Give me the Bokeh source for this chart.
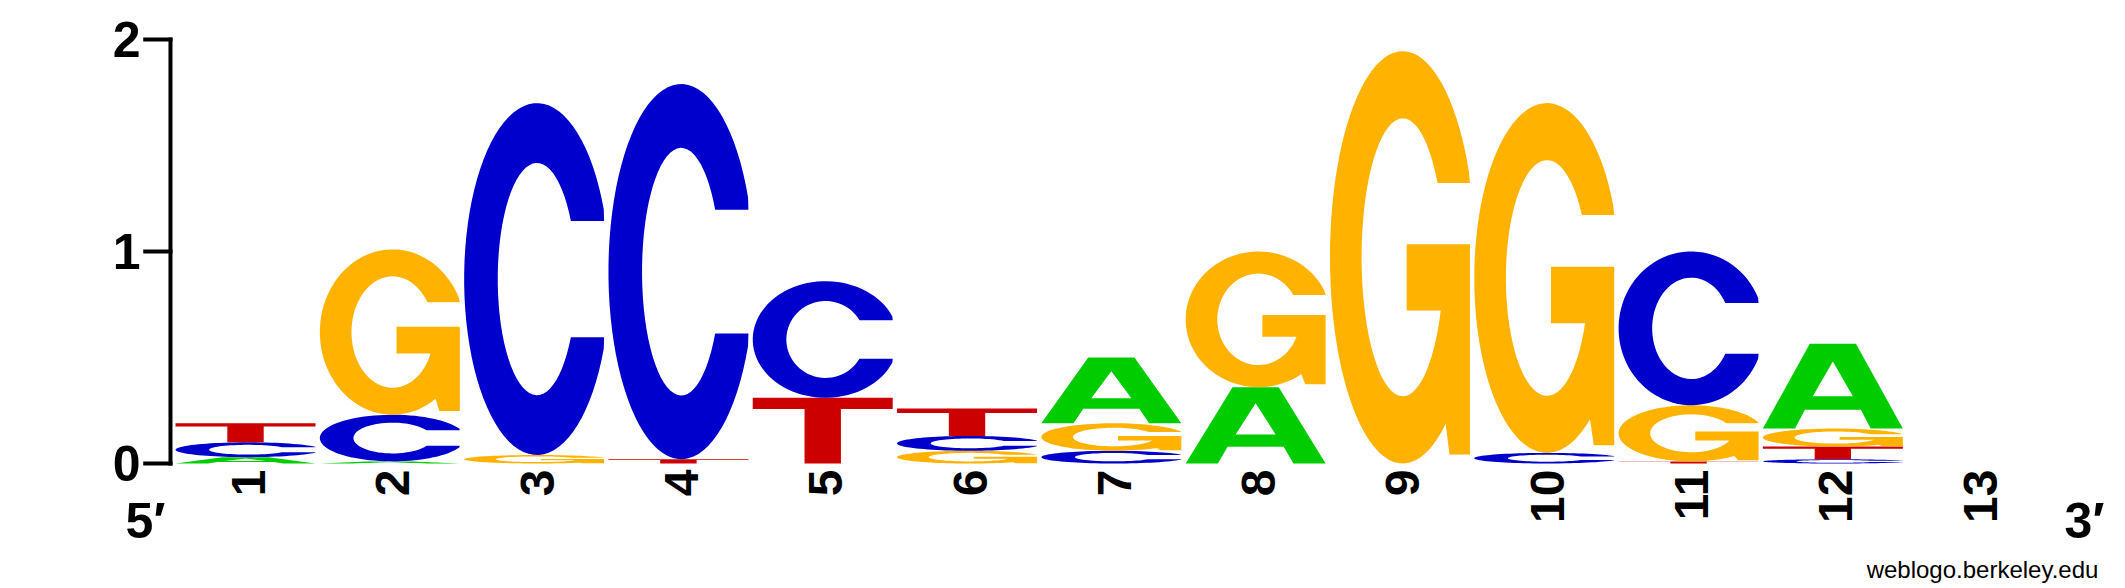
import numpy as np

from bokeh.plotting import figure
from bokeh.core.properties import value
from bokeh.embed import file_html
from bokeh.resources import INLINE

# information content (bits) per base, positions 1..13
positions = list(range(1, 14))
a_bits = [0.03, 0.01, 0.00, 0.00, 0.00, 0.00, 0.31, 0.36, 0.00, 0.00, 0.000, 0.400, 0.0]
c_bits = [0.07, 0.22, 1.66, 1.77, 0.55, 0.07, 0.06, 0.00, 0.00, 0.05, 0.725, 0.020, 0.0]
g_bits = [0.00, 0.78, 0.04, 0.00, 0.00, 0.06, 0.13, 0.64, 1.945, 1.65, 0.265, 0.085, 0.0]
t_bits = [0.09, 0.00, 0.00, 0.02, 0.31, 0.13, 0.00, 0.00, 0.00, 0.00, 0.010, 0.060, 0.0]
y_ticks = [0, 1, 2]

colors = {"A": "#00CC00", "C": "#0000CC", "G": "#FFB300", "T": "#CC0000"}
FONT = value("Liberation Sans")
LETTER_W = 0.97
AXIS_X = 0.48      # where the bits axis sits
TICK_LEN = 0.175   # tick length in position units


# --- letter outlines in a unit box (Helvetica Bold-ish) ---
def ellipse(cx, cy, rx, ry, t):
    return cx + rx * np.cos(t), cy + ry * np.sin(t)


def shape_A():
    outer = [(0, 0), (0.335, 1), (0.665, 1), (1, 0), (0.77, 0), (0.70, 0.22), (0.30, 0.22), (0.23, 0)]
    hole = [(0.357, 0.38), (0.643, 0.38), (0.5, 0.79)]
    return [outer, hole]


def shape_T():
    return [[(0, 1), (1, 1), (1, 0.83), (0.63, 0.83), (0.63, 0), (0.37, 0), (0.37, 0.83), (0, 0.83)]]


def shape_C():
    cut = 0.165
    t0 = np.arcsin(cut / 0.5)
    ox, oy = ellipse(0.52, 0.5, 0.52, 0.5, np.linspace(t0, 2 * np.pi - t0, 80))
    ox = np.minimum(ox, 1.0)
    f0 = np.arcsin(cut / 0.33)
    ix, iy = ellipse(0.52, 0.5, 0.28, 0.33, np.linspace(2 * np.pi - f0, f0, 60))
    return [list(zip(ox, oy)) + list(zip(ix, iy))]


def shape_G():
    t0 = np.arcsin(0.18 / 0.5)
    ox, oy = ellipse(0.52, 0.5, 0.52, 0.5, np.linspace(t0, 2 * np.pi - 0.94, 80))
    ox = np.minimum(ox, 1.0)
    bar = [(0.854, 0.022), (1.0, 0.022), (1.0, 0.532), (0.548, 0.532), (0.548, 0.371)]
    f_start = np.arcsin(-0.129 / 0.337)
    f_end = np.arcsin(0.18 / 0.337) - 2 * np.pi
    ix, iy = ellipse(0.52, 0.5, 0.294, 0.337, np.linspace(f_start, f_end, 70))
    return [list(zip(ox, oy)) + bar + list(zip(ix, iy))]


shapes = {"A": shape_A(), "C": shape_C(), "G": shape_G(), "T": shape_T()}

# stack letters, smallest at the bottom
xs, ys, fills = [], [], []
for i, pos in enumerate(positions):
    column = [("A", a_bits[i]), ("C", c_bits[i]), ("G", g_bits[i]), ("T", t_bits[i])]
    column = sorted([c for c in column if c[1] > 0], key=lambda c: c[1])
    base = 0.0
    for letter, h in column:
        rings_x, rings_y = [], []
        for ring in shapes[letter]:
            rings_x.append([pos - LETTER_W / 2 + u * LETTER_W for u, v in ring])
            rings_y.append([base + v * h for u, v in ring])
        xs.append([rings_x])
        ys.append([rings_y])
        fills.append(colors[letter])
        base += h

p = figure(width=2125, height=588, x_range=(-0.6979, 14.028), y_range=(-0.5896, 2.184),
           output_backend="svg", toolbar_location=None, min_border=0)
p.outline_line_color = None
p.grid.visible = False
p.axis.visible = False

p.multi_polygons(xs=xs, ys=ys, fill_color=fills, line_color=None)

# bits axis with ticks and labels
p.segment(x0=[AXIS_X], y0=[0], x1=[AXIS_X], y1=[2], line_width=4, line_color="black", line_cap="square")
p.segment(x0=[AXIS_X] * 3, y0=y_ticks, x1=[AXIS_X - TICK_LEN] * 3, y1=y_ticks,
          line_width=4, line_color="black", line_cap="square")
p.text(x=[AXIS_X] * 3, y=y_ticks, text=[str(t) for t in y_ticks], x_offset=-30,
       text_font=FONT, text_font_style="bold", text_font_size="50px",
       text_align="right", text_baseline="middle", text_color="black")

# position numbers, rotated
p.text(x=positions, y=[0] * len(positions), text=[str(n) for n in positions],
       x_offset=3, y_offset=6, angle=np.pi / 2,
       text_font=FONT, text_font_style="bold", text_font_size="48px",
       text_align="right", text_baseline="middle", text_color="black")

# 5' / 3' ends
p.text(x=[0.307, 13.744], y=[-0.272, -0.272], text=["5\u2032", "3\u2032"],
       text_font=FONT, text_font_style="bold", text_font_size="50px",
       text_align="center", text_baseline="middle", text_color="black")

p.text(x=[13.84], y=[-0.50], text=["weblogo.berkeley.edu"],
       text_font=FONT, text_font_size="24px",
       text_align="right", text_baseline="middle", text_color="black")

open("out.html", "w").write(file_html(p, INLINE))
